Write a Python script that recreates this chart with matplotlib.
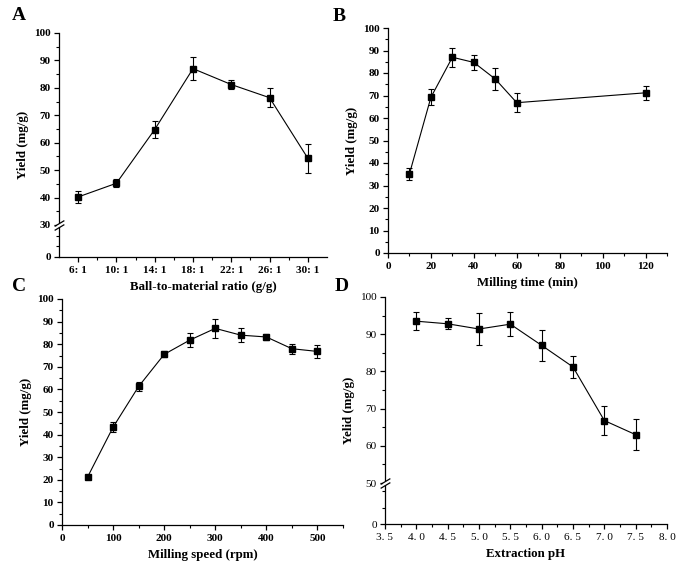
import numpy as np
import matplotlib
matplotlib.use("Agg")
import matplotlib.pyplot as plt
from matplotlib.ticker import MultipleLocator, FixedLocator
from matplotlib.transforms import offset_copy

plt.rcParams['font.family'] = ['Liberation Serif', 'DejaVu Serif']
plt.rcParams['font.weight'] = 'bold'

# ---------------- data ----------------
a_labels = ["6: 1", "10: 1", "14: 1", "18: 1", "22: 1", "26: 1", "30: 1"]
a_y = [40.2, 45.2, 64.8, 87.0, 81.2, 76.4, 54.3]
a_err = [2.3, 1.5, 3.2, 4.2, 1.5, 3.5, 5.3]

b_x = [10, 20, 30, 40, 50, 60, 120]
b_y = [35.2, 69.2, 87.0, 84.7, 77.3, 66.8, 71.2]
b_err = [2.8, 3.5, 4.2, 3.4, 4.8, 4.2, 3.0]

c_x = [50, 100, 150, 200, 250, 300, 350, 400, 450, 500]
c_y = [21.2, 43.3, 61.3, 75.5, 81.8, 87.0, 84.0, 83.2, 78.0, 76.8]
c_err = [1.0, 2.2, 2.0, 1.3, 3.2, 4.2, 3.2, 1.5, 2.2, 3.0]

d_x = [4.0, 4.5, 5.0, 5.5, 6.0, 6.5, 7.0, 7.5]
d_y = [93.5, 92.8, 91.4, 92.7, 87.0, 81.2, 66.8, 63.0]
d_err = [2.4, 1.5, 4.3, 3.2, 4.2, 3.0, 4.0, 4.2]
d_ticks = [3.5, 4.0, 4.5, 5.0, 5.5, 6.0, 6.5, 7.0, 7.5, 8.0]
d_ticklabels = ["3. 5", "4. 0", "4. 5", "5. 0", "5. 5", "6. 0", "6. 5", "7. 0", "7. 5", "8. 0"]

fig = plt.figure(figsize=(6.85, 5.65), dpi=100)

W, H = 685.0, 565.0
def add_ax(l, r, t, b):
    return fig.add_axes([l / W, 1 - b / H, (r - l) / W, (b - t) / H])

axA = add_ax(59, 327, 33, 257)
axB = add_ax(388, 667, 28, 253)
axC = add_ax(62, 343, 299, 525)
axD = add_ax(385, 667, 297, 524)

TICK_FS = 8.1
LAB_FS = 9.3

def style(ax):
    for s in ['top', 'right']:
        ax.spines[s].set_visible(False)
    for s in ['left', 'bottom']:
        ax.spines[s].set_linewidth(0.9)
    ax.tick_params(which='major', direction='out', length=3.5, width=0.9,
                   labelsize=TICK_FS, pad=2.5)
    ax.tick_params(which='minor', direction='out', length=2, width=0.8)
    ax.tick_params(axis='x', pad=3)
    for lab in ax.get_xticklabels() + ax.get_yticklabels():
        lab.set_fontweight('bold')

def draw(ax, x, y, err):
    ax.errorbar(x, y, yerr=err, color='black', lw=0.8, marker='s', ms=4.8,
                capsize=2.3, elinewidth=0.8, capthick=0.8, clip_on=False, zorder=3)

def broken_scale(ax, b, k):
    def fwd(v):
        v = np.asarray(v, dtype=float)
        return np.where(v < b, v * k, b * k + (v - b))
    def inv(v):
        v = np.asarray(v, dtype=float)
        return np.where(v < b * k, v / k, v - b * k + b)
    ax.set_yscale('function', functions=(fwd, inv))

def break_mark(ax, b):
    tr = ax.get_yaxis_transform()
    for dy in (-1.4, 1.4):
        t2 = offset_copy(tr, fig=fig, x=0, y=dy, units='points')
        ax.plot([0], [b], transform=t2, marker=[(-1, -0.6), (1, 0.6)],
                ms=7, mew=0.9, color='black', clip_on=False, zorder=7)
    t0 = offset_copy(tr, fig=fig, x=0, y=0, units='points')
    ax.plot([0], [b], transform=t0, marker='s', ms=2.2, mew=0, color='white',
            clip_on=False, zorder=6)

def labels(ax, xl, yl):
    ax.set_xlabel(xl, fontsize=LAB_FS, fontweight='bold', labelpad=4.5)
    ax.set_ylabel(yl, fontsize=LAB_FS, fontweight='bold', labelpad=3.5)

# ---------- A ----------
xa = np.arange(len(a_labels))
draw(axA, xa, a_y, a_err)
broken_scale(axA, 30, 0.39)
axA.set_ylim(0, 100)
axA.set_xlim(-0.5, len(a_labels) - 0.5)
axA.set_xticks(xa)
axA.set_xticklabels(a_labels)
axA.xaxis.set_minor_locator(FixedLocator(xa[:-1] + 0.5))
axA.set_yticks([0, 30, 40, 50, 60, 70, 80, 90, 100])
axA.yaxis.set_minor_locator(FixedLocator([10, 20, 35, 45, 55, 65, 75, 85, 95]))
style(axA)
break_mark(axA, 30)
labels(axA, "Ball-to-material ratio (g/g)", "Yield (mg/g)")
axA.xaxis.label.set_x(0.54)

# ---------- B ----------
draw(axB, b_x, b_y, b_err)
axB.set_xlim(0, 130)
axB.set_ylim(0, 100)
axB.xaxis.set_major_locator(FixedLocator([0, 20, 40, 60, 80, 100, 120]))
axB.xaxis.set_minor_locator(FixedLocator([10, 30, 50, 70, 90, 110, 130]))
axB.yaxis.set_major_locator(MultipleLocator(10))
axB.yaxis.set_minor_locator(MultipleLocator(5))
style(axB)
labels(axB, "Milling time (min)", "Yield (mg/g)")

# ---------- C ----------
draw(axC, c_x, c_y, c_err)
axC.set_xlim(0, 550)
axC.set_ylim(0, 100)
axC.xaxis.set_major_locator(FixedLocator([0, 100, 200, 300, 400, 500]))
axC.xaxis.set_minor_locator(FixedLocator([50, 150, 250, 350, 450, 550]))
axC.yaxis.set_major_locator(MultipleLocator(10))
axC.yaxis.set_minor_locator(MultipleLocator(5))
style(axC)
labels(axC, "Milling speed (rpm)", "Yield (mg/g)")

# ---------- D ----------
draw(axD, d_x, d_y, d_err)
broken_scale(axD, 50, 0.22)
axD.set_xlim(3.5, 8.0)
axD.set_ylim(0, 100)
axD.set_xticks(d_ticks)
axD.set_xticklabels(d_ticklabels)
axD.xaxis.set_minor_locator(FixedLocator(np.array(d_ticks[:-1]) + 0.25))
axD.set_yticks([0, 50, 60, 70, 80, 90, 100])
axD.yaxis.set_minor_locator(FixedLocator([20, 40, 55, 65, 75, 85, 95]))
style(axD)
for lab in axD.get_xticklabels() + axD.get_yticklabels():
    lab.set_fontweight('normal')
break_mark(axD, 50)
labels(axD, "Extraction pH", "Yelid (mg/g)")

# panel letters
for txt, x, y in [("A", 12, 20), ("B", 333, 21), ("C", 12, 291), ("D", 335, 291)]:
    fig.text(x / W, 1 - y / H, txt, fontsize=14, fontweight='bold', ha='left', va='baseline')

fig.savefig("out.png", dpi=100)
